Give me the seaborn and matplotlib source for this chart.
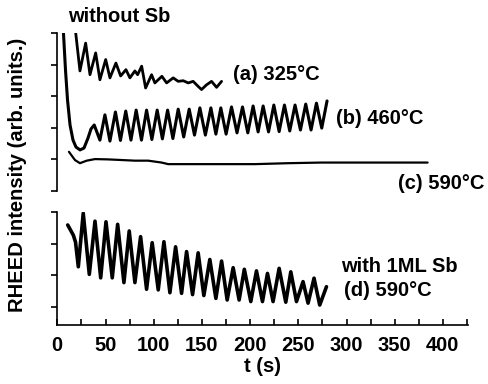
import matplotlib
matplotlib.use('Agg')
import matplotlib.pyplot as plt
import seaborn as sns
from matplotlib.ticker import MultipleLocator

# values (t in s, intensity in arb. units)
# (a) 325 C, without Sb
t_a = [19.1, 23.5, 29.4, 33.9, 39.8, 44.2, 50.2, 54.6, 60.8, 65.7, 71.2, 75.3, 80.5, 83.3,
       87.5, 91.6, 97.8, 101.2, 108.5, 113.4, 120.2, 125.4, 130.6, 135.8, 140.9, 146.1,
       149.6, 154.8, 160.0, 165.2, 170.4]
i_a = [5.0, 3.80, 4.68, 3.68, 4.37, 3.52, 4.16, 3.58, 4.05, 3.64, 3.84, 3.58, 3.80, 3.68,
       3.95, 3.26, 3.68, 3.42, 3.63, 3.42, 3.58, 3.47, 3.49, 3.42, 3.47, 3.31,
       3.21, 3.36, 3.47, 3.28, 3.47]

# (b) 460 C, without Sb
t_b = [6.4, 8.5, 10.6, 13.2, 16.3, 19.4, 23.6, 27.7, 31.9, 34.9, 38.3, 44.2,
       49.4, 54.6, 60.3, 65.5, 71.0, 76.4, 81.8, 87.3, 92.6, 98.1, 103.6, 109.0,
       114.4, 119.9, 125.4, 131.1, 136.8, 142.3, 147.9, 153.6, 159.3, 164.5, 169.6,
       175.1, 180.7, 186.4, 192.1, 197.6, 203.1, 208.3, 213.5, 219.1, 224.6, 230.1,
       235.6, 241.1, 246.6, 252.2, 257.7, 263.2, 268.8, 274.3, 279.8]
i_b = [5.0, 3.83, 2.88, 2.09, 1.61, 1.39, 1.30, 1.36, 1.68, 1.96, 2.09, 1.61,
       2.41, 1.58, 2.50, 1.60, 2.53, 1.61, 2.56, 1.61, 2.56, 1.63, 2.56, 1.65,
       2.56, 1.66, 2.59, 1.71, 2.59, 1.77, 2.63, 1.77, 2.63, 1.80, 2.63,
       1.80, 2.66, 1.84, 2.66, 1.84, 2.69, 1.87, 2.69, 1.87, 2.72, 1.88,
       2.72, 1.90, 2.72, 1.93, 2.75, 1.93, 2.78, 1.99, 2.85]

# (c) 590 C, without Sb
t_c = [12.1, 18.3, 23.5, 30.5, 39.1, 52.8, 66.7, 80.5, 94.3, 108.2, 115.0, 135.8,
       170.4, 204.9, 239.4, 274.0, 308.5, 343.0, 374.1, 384.1]
i_c = [1.24, 0.98, 0.88, 0.96, 1.01, 1.00, 0.98, 0.96, 0.96, 0.90, 0.85, 0.85,
       0.85, 0.85, 0.88, 0.90, 0.90, 0.90, 0.90, 0.90]

# (d) 590 C, with 1ML Sb
t_d = [10.8, 16.6, 18.9, 21.8, 26.9, 33.2, 39.1, 45.0, 50.5, 57.0, 62.6, 69.1, 74.6,
       80.5, 86.4, 92.6, 98.4, 104.7, 110.6, 116.8, 122.7, 128.9, 134.1, 140.3, 146.1,
       152.0, 158.2, 164.5, 170.4, 176.2, 182.4, 188.6, 194.0, 200.7, 206.6, 212.8,
       218.0, 223.8, 230.1, 237.0, 242.2, 248.1, 254.9, 260.1, 266.3, 272.2, 279.2]
i_d = [2.59, 2.27, 2.05, 1.27, 2.96, 1.03, 2.71, 0.92, 2.69, 0.92, 2.61, 0.77, 2.40,
       0.77, 2.22, 0.56, 2.03, 0.54, 2.06, 0.45, 1.90, 0.43, 1.75, 0.39, 1.71,
       0.36, 1.50, 0.27, 1.45, 0.22, 1.24, 0.22, 1.19, 0.17, 1.14, 0.17,
       1.06, 0.17, 1.22, 0.15, 1.11, 0.17, 0.80, 0.12, 0.91, 0.06, 0.64]

sns.set_style('ticks')
plt.rcParams['font.family'] = ['Liberation Sans', 'DejaVu Sans']
plt.rcParams['font.weight'] = 'bold'
plt.rcParams['text.color'] = 'black'
plt.rcParams['xtick.color'] = 'black'
plt.rcParams['ytick.color'] = 'black'

W, H = 489, 384
fig = plt.figure(figsize=(W / 100, H / 100), dpi=100)

def px(x, y):
    return x / W, 1 - y / H

ax1 = fig.add_axes([57.3 / W, 1 - 191 / H, (468 - 57.3) / W, (191 - 33) / H])
ax2 = fig.add_axes([57.3 / W, 1 - 325 / H, (468 - 57.3) / W, (325 - 212) / H])

line_kw = dict(color='black', estimator=None, sort=False,
               solid_joinstyle='round', solid_capstyle='round')
for t, i, lw in [(t_a, i_a, 2.0), (t_b, i_b, 2.2), (t_c, i_c, 1.6)]:
    sns.lineplot(x=t, y=i, ax=ax1, lw=lw, **line_kw)
sns.lineplot(x=t_d, y=i_d, ax=ax2, lw=2.6, **line_kw)

for ax in (ax1, ax2):
    ax.set_xlim(0, 426)
    ax.set_xlabel('')
    ax.set_ylabel('')
    ax.spines['top'].set_visible(False)
    ax.spines['right'].set_visible(False)
    ax.spines['left'].set_color('black')
    ax.spines['left'].set_linewidth(1.2)
    ax.tick_params(axis='y', direction='out', length=4, width=1.2, color='black', labelleft=False)

ax1.set_ylim(0, 5)
ax1.set_yticks(range(6))
ax1.spines['bottom'].set_visible(False)
ax1.set_xticks([])

ax2.set_ylim(-0.57, 3)
ax2.set_yticks(range(4))
ax2.spines['bottom'].set_color('black')
ax2.spines['bottom'].set_linewidth(1.2)
ax2.xaxis.set_major_locator(MultipleLocator(50))
ax2.xaxis.set_minor_locator(MultipleLocator(25))
ax2.tick_params(axis='x', which='both', direction='in', length=4, width=1.2,
                color='black', labelsize=14.5, pad=8, labelcolor='black')
for lab in ax2.get_xticklabels():
    lab.set_fontweight('bold')

fs = 14.5
fig.text(*px(68, 16.5), 'without Sb', fontsize=fs, fontweight='bold', ha='left', va='center')
fig.text(*px(233, 75), '(a) 325°C', fontsize=fs, fontweight='bold', ha='left', va='center')
fig.text(*px(336.5, 118.5), '(b) 460°C', fontsize=fs, fontweight='bold', ha='left', va='center')
fig.text(*px(398, 183.5), '(c) 590°C', fontsize=fs, fontweight='bold', ha='left', va='center')
fig.text(*px(341.5, 266.5), 'with 1ML Sb', fontsize=fs, fontweight='bold', ha='left', va='center')
fig.text(*px(344, 290), '(d) 590°C', fontsize=fs, fontweight='bold', ha='left', va='center')
fig.text(*px(262.6, 367), 't (s)', fontsize=fs, fontweight='bold', ha='center', va='center')
fig.text(*px(18, 175), 'RHEED intensity (arb. units.)', fontsize=fs, fontweight='bold',
         ha='center', va='center', rotation=90)

fig.savefig('out.png', dpi=100)
